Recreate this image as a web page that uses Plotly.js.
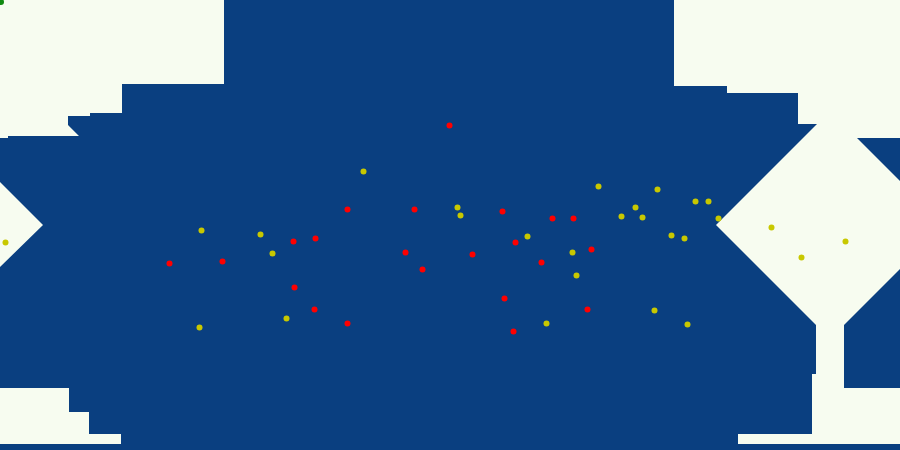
<!DOCTYPE html>
<html>
<head>
<meta charset="utf-8">
<script src="https://cdn.plot.ly/plotly-3.0.1.min.js"></script>
<style>html,body{margin:0;padding:0;background:#0a3f80;}#chart{width:900px;height:450px;}</style>
</head>
<body>
<div id="chart"></div>
<script>
// Decision-region polygons (data coordinates)
const topLeftX = [0,224,224,122,122,90,90,68,68,79,8,8,0];
const topLeftY = [0,0,84,84,113,113,116,116,125,136,136,138,138];
const leftDiamondX = [0,43,0];
const leftDiamondY = [182,225,267];
const bottomLeftX = [0,69,69,89,89,121,121,0];
const bottomLeftY = [388,388,412,412,434,434,444,444];
const topRightX = [674,900,900,830,830,798,798,727,727,674];
const topRightY = [0,0,138,138,124,124,93,93,86,86];
const rightDiamondX = [716,830,944,830];
const rightDiamondY = [225,111,225,339];
const bottomRightX = [816,844,844,900,900,738,738,812,812,816];
const bottomRightY = [324,324,388,388,444,444,434,434,374,374];

// Class points
const redX = [347.5,293.5,315.5,169.5,222.5,294.5,314.5,347.5,449.5,414.5,502.5,552.5,573.5,515.5,405.5,472.5,422.5,591.5,541.5,504.5,587.5,513.5];
const redY = [209.5,241.5,238.5,263.5,261.5,287.5,309.5,323.5,125.5,209.5,211.5,218.5,218.5,242.5,252.5,254.5,269.5,249.5,262.5,298.5,309.5,331.5];
const yellowX = [363.5,201.5,260.5,272.5,286.5,199.5,598.5,457.5,460.5,621.5,527.5,572.5,576.5,546.5,657.5,635.5,642.5,695.5,708.5,718.5,671.5,684.5,771.5,654.5,687.5,845.5,801.5,5.5];
const yellowY = [171.5,230.5,234.5,253.5,318.5,327.5,186.5,207.5,215.5,216.5,236.5,252.5,275.5,323.5,189.5,207.5,217.5,201.5,201.5,218.5,235.5,238.5,227.5,310.5,324.5,241.5,257.5,242.5];
const greenX = [1];
const greenY = [2];

function joinPolys(list){
  const xs=[], ys=[];
  list.forEach((p,i)=>{
    if(i>0){xs.push(null); ys.push(null);}
    xs.push(...p[0], p[0][0]); ys.push(...p[1], p[1][0]);
  });
  return [xs, ys];
}
const polys = joinPolys([
  [topLeftX, topLeftY],[leftDiamondX, leftDiamondY],[bottomLeftX, bottomLeftY],
  [topRightX, topRightY],[rightDiamondX, rightDiamondY],[bottomRightX, bottomRightY]
]);

const traces = [
  {x: polys[0], y: polys[1], type:'scatter', mode:'lines', fill:'toself',
   fillcolor:'#f7fcf0', line:{width:0, color:'#f7fcf0'}, hoverinfo:'skip', showlegend:false},
  {x: redX, y: redY, type:'scatter', mode:'markers', marker:{color:'#ff0000', size:6}, showlegend:false},
  {x: yellowX, y: yellowY, type:'scatter', mode:'markers', marker:{color:'#c8c800', size:6}, showlegend:false},
  {x: greenX, y: greenY, type:'scatter', mode:'markers', marker:{color:'#108a10', size:6}, showlegend:false}
];

const layout = {
  width:900, height:450,
  margin:{l:0,r:0,t:0,b:0,pad:0},
  paper_bgcolor:'#0a3f80', plot_bgcolor:'#0a3f80',
  xaxis:{range:[0,900], visible:false, fixedrange:true},
  yaxis:{range:[450,0], visible:false, fixedrange:true},
  showlegend:false, hovermode:false
};
Plotly.newPlot('chart', traces, layout, {displayModeBar:false, staticPlot:true});
</script>
</body>
</html>
